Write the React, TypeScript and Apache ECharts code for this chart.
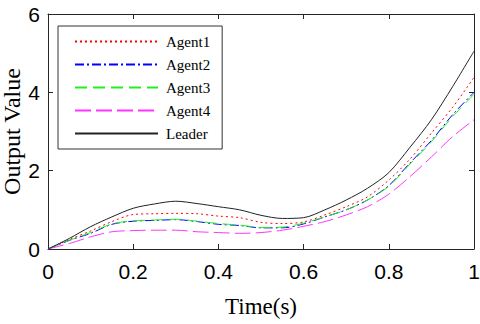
import React, { useEffect, useRef } from "react";
import * as echarts from "echarts";

const timeValues = [0, 0.05, 0.1, 0.15, 0.2, 0.25, 0.3, 0.35, 0.4, 0.45, 0.5, 0.55, 0.6, 0.65, 0.7, 0.75, 0.8, 0.85, 0.9, 0.95, 1];
const agent1 = [0, 0.24, 0.46, 0.7, 0.88, 0.9, 0.91, 0.9, 0.84, 0.8, 0.68, 0.65, 0.69, 0.87, 1.08, 1.33, 1.76, 2.3, 2.96, 3.62, 4.38];
const agent2 = [0, 0.22, 0.4, 0.63, 0.71, 0.73, 0.75, 0.7, 0.63, 0.6, 0.54, 0.54, 0.64, 0.82, 1.0, 1.25, 1.62, 2.2, 2.77, 3.43, 4.0];
const agent3 = [0, 0.22, 0.42, 0.64, 0.72, 0.74, 0.76, 0.71, 0.65, 0.61, 0.55, 0.56, 0.66, 0.82, 1.0, 1.25, 1.6, 2.17, 2.74, 3.38, 3.95];
const agent4 = [0, 0.14, 0.31, 0.44, 0.47, 0.48, 0.48, 0.44, 0.42, 0.4, 0.42, 0.48, 0.58, 0.7, 0.87, 1.08, 1.4, 1.85, 2.35, 2.87, 3.3];
const leader = [0, 0.27, 0.57, 0.82, 1.04, 1.15, 1.22, 1.16, 1.08, 1.0, 0.86, 0.78, 0.8, 1.0, 1.25, 1.55, 1.95, 2.6, 3.3, 4.15, 5.05];

const seriesNames = ["Agent1", "Agent2", "Agent3", "Agent4", "Leader"];
const seriesValues = [agent1, agent2, agent3, agent4, leader];
const seriesColors = ["#ff0000", "#0000ff", "#22ee22", "#ff33ff", "#222222"];
const seriesDashes: any[] = [[2, 3], [9, 3, 2, 3], [12, 6], [16, 5], "solid"];

const xTicks = { min: 0, max: 1, interval: 0.2 };
const yTicks = { min: 0, max: 6, interval: 2 };

const axisColor = "#262626";
const sansFont = "'Liberation Sans', Arial, sans-serif";
const serifFont = "'Liberation Serif', 'Times New Roman', serif";

export default function App() {
  const ref = useRef<HTMLDivElement>(null);
  useEffect(() => {
    if (!ref.current) return;
    const chart = echarts.init(ref.current, null, { renderer: "svg" });
    const axisCommon = {
      axisLine: { show: true, onZero: false, lineStyle: { color: axisColor, width: 1 } },
      axisTick: { show: true, inside: true, length: 5, lineStyle: { color: axisColor } },
      splitLine: { show: false },
    };
    chart.setOption({
      animation: false,
      backgroundColor: "#ffffff",
      grid: { left: 48, right: 6, top: 14, bottom: 75, containLabel: false, outerBoundsMode: "none" },
      legend: {
        orient: "vertical",
        left: 58,
        top: 26,
        padding: [8, 12, 8, 16],
        itemWidth: 83,
        itemHeight: 14,
        itemGap: 8,
        borderColor: "#333",
        borderWidth: 1,
        backgroundColor: "#fff",
        itemStyle: { opacity: 0 },
        textStyle: { fontFamily: serifFont, fontSize: 15, color: "#000", padding: [0, 0, 0, 3] },
        data: seriesNames,
      },
      xAxis: [
        {
          type: "value",
          position: "bottom",
          ...xTicks,
          ...axisCommon,
          name: "Time(s)",
          nameLocation: "middle",
          nameGap: 46,
          nameTextStyle: { fontFamily: serifFont, fontSize: 23, color: "#000" },
          axisLabel: { fontFamily: sansFont, fontSize: 21, color: "#000", margin: 12 },
        },
        {
          type: "value",
          position: "top",
          ...xTicks,
          ...axisCommon,
          axisLabel: { show: false },
        },
      ],
      yAxis: [
        {
          type: "value",
          position: "left",
          ...yTicks,
          ...axisCommon,
          name: "Output Value",
          nameLocation: "middle",
          nameGap: 24,
          nameMoveOverlap: false,
          nameTextStyle: { fontFamily: serifFont, fontSize: 24, color: "#000" },
          axisLabel: { fontFamily: sansFont, fontSize: 21, color: "#000", margin: 8 },
        },
        {
          type: "value",
          position: "right",
          ...yTicks,
          ...axisCommon,
          axisLabel: { show: false },
        },
      ],
      series: seriesNames.map((name, i) => ({
        name,
        type: "line",
        xAxisIndex: 0,
        yAxisIndex: 0,
        symbol: "none",
        smooth: 0.3,
        data: timeValues.map((t, j) => [t, seriesValues[i][j]]),
        lineStyle: { color: seriesColors[i], width: 1, type: seriesDashes[i] },
        itemStyle: { color: seriesColors[i] },
        z: i === 4 ? 3 : 2,
      })),
    });
    return () => chart.dispose();
  }, []);
  return (
    <div
      ref={ref}
      style={{ position: "fixed", left: 0, top: 0, width: 480, height: 324, background: "#fff" }}
    />
  );
}
